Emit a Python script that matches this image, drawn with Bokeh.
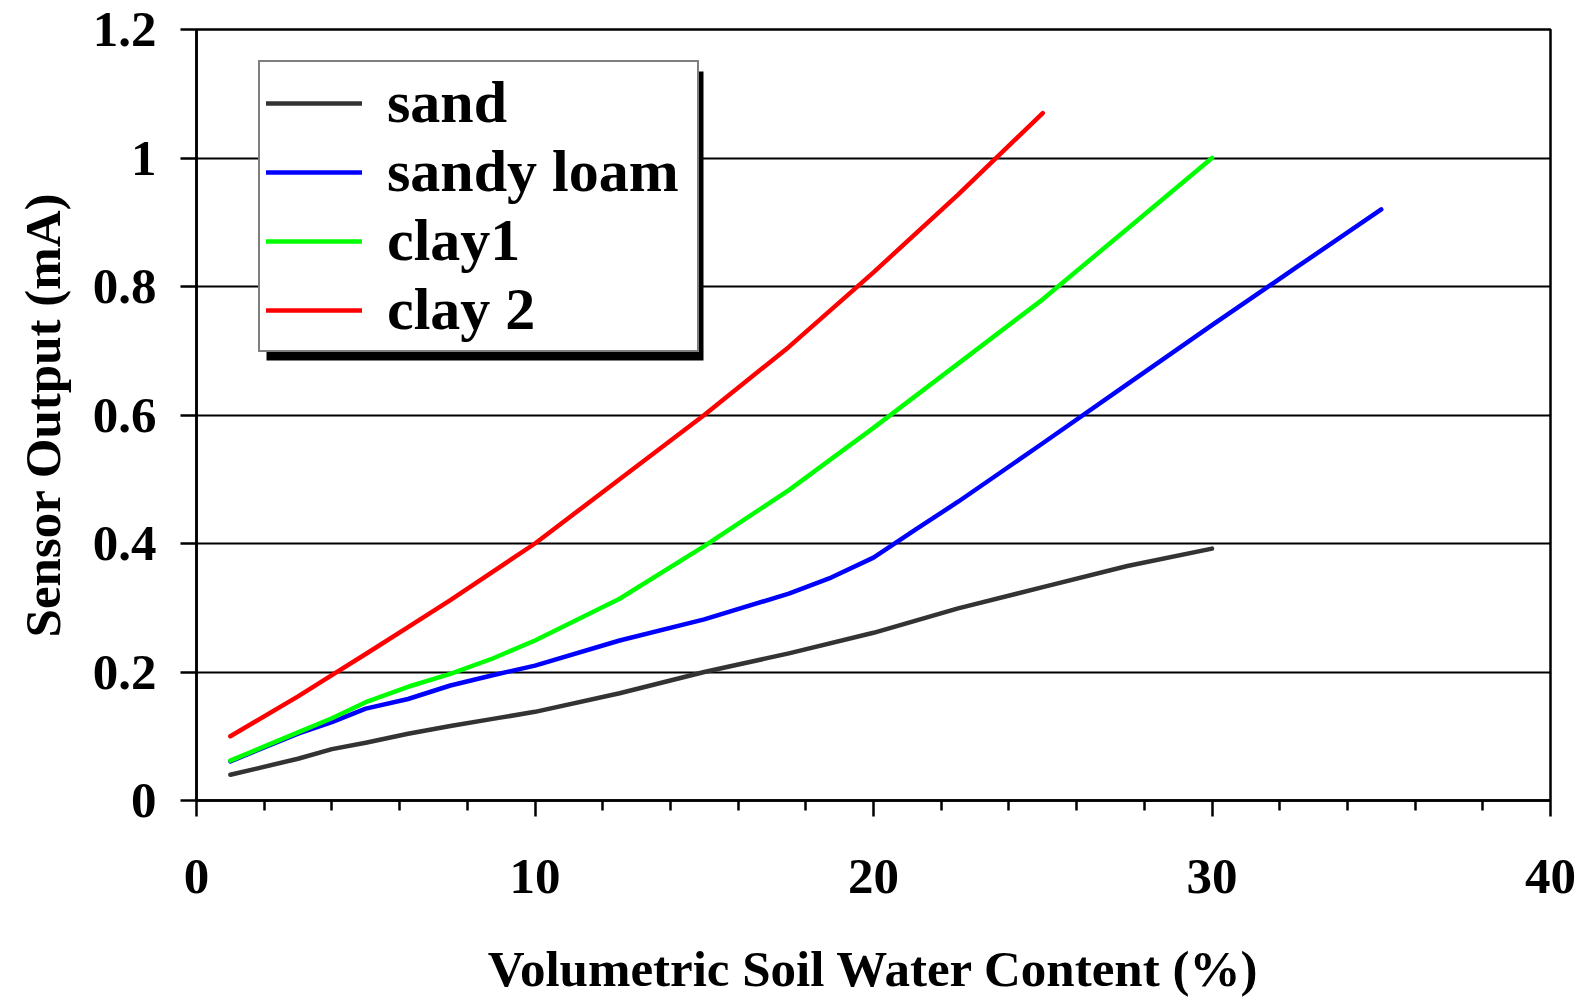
from bokeh.plotting import figure
from bokeh.models import Range1d, FixedTicker, Legend, LegendItem, BoxAnnotation
from bokeh.embed import file_html
from bokeh.resources import INLINE

# ---- data ----
series_names = ["sand", "sandy loam", "clay1", "clay 2"]

sand_x = [1, 3, 4, 5, 6.25, 7.5, 8.75, 10, 12.5, 15, 17.5, 20, 22.5, 25, 27.5, 30]
sand_y = [0.040, 0.065, 0.080, 0.090, 0.104, 0.116, 0.127, 0.138, 0.167, 0.200,
          0.229, 0.261, 0.299, 0.332, 0.365, 0.392]

loam_x = [1, 3, 4, 5, 6.25, 7.5, 8.75, 10, 12.5, 15, 17.5, 18.75, 20, 21.25,
          22.5, 25, 27.5, 30, 32.5, 35]
loam_y = [0.061, 0.104, 0.122, 0.143, 0.158, 0.179, 0.195, 0.210, 0.249, 0.282,
          0.322, 0.347, 0.378, 0.422, 0.465, 0.556, 0.648, 0.740, 0.830, 0.920]

clay1_x = [1, 3, 4, 5, 6.25, 7.5, 8.75, 10, 12.5, 15, 17.5, 20, 22.5, 25, 27.5, 30]
clay1_y = [0.062, 0.106, 0.128, 0.153, 0.177, 0.197, 0.221, 0.249, 0.314, 0.396,
           0.483, 0.580, 0.680, 0.780, 0.890, 1.000]

clay2_x = [1, 3, 4, 5, 6.25, 7.5, 10, 12.5, 15, 17.5, 20, 22.5, 25]
clay2_y = [0.100, 0.162, 0.195, 0.228, 0.270, 0.312, 0.400, 0.500, 0.600,
           0.706, 0.822, 0.943, 1.070]

x_ticks = [0, 10, 20, 30, 40]
x_minor = [2, 4, 6, 8, 12, 14, 16, 18, 22, 24, 26, 28, 32, 34, 36, 38]
y_ticks = [0, 0.2, 0.4, 0.6, 0.8, 1.0, 1.2]
y_tick_labels = ["0", "0.2", "0.4", "0.6", "0.8", "1", "1.2"]

colors = ["#333333", "#0000ff", "#00ff00", "#ff0000"]

FONT = "Liberation Serif"

X0, X1, Y0, Y1 = 0, 40, 0, 1.2
FRAME_W, FRAME_H = 1354, 771
LEFT, TOP = 196, 29
W, H = 1585, 1000

p = figure(width=W, height=H,
           x_range=Range1d(X0, X1), y_range=Range1d(Y0, Y1),
           output_backend="svg", toolbar_location=None,
           min_border_left=LEFT, min_border_right=W - LEFT - FRAME_W,
           min_border_top=TOP, min_border_bottom=H - TOP - FRAME_H)

p.outline_line_color = "black"
p.outline_line_width = 2.5
p.background_fill_color = "white"
p.border_fill_color = "white"

p.xgrid.visible = False
p.ygrid.ticker = FixedTicker(ticks=y_ticks)
p.ygrid.grid_line_color = "black"
p.ygrid.grid_line_width = 2

p.xaxis.ticker = FixedTicker(ticks=x_ticks, minor_ticks=x_minor)
p.yaxis.ticker = FixedTicker(ticks=y_ticks)
p.yaxis.major_label_overrides = {t: l for t, l in zip(y_ticks, y_tick_labels)}

for ax in (p.xaxis[0], p.yaxis[0]):
    ax.axis_line_width = 2.5
    ax.axis_line_color = "black"
    ax.major_tick_line_width = 2.5
    ax.major_tick_line_color = "black"
    ax.minor_tick_line_width = 2.5
    ax.minor_tick_line_color = "black"
    ax.major_tick_in = 0
    ax.major_tick_out = 16
    ax.minor_tick_in = 0
    ax.minor_tick_out = 10
    ax.major_label_text_font = FONT
    ax.major_label_text_font_style = "bold"
    ax.major_label_text_font_size = "51px"
    ax.major_label_text_color = "black"
    ax.axis_label_text_font = FONT
    ax.axis_label_text_font_style = "bold"
    ax.axis_label_text_font_size = "51px"
    ax.axis_label_text_color = "black"

p.yaxis.minor_tick_line_color = None
p.xaxis.axis_label = "Volumetric Soil Water Content (%)"
p.yaxis.axis_label = "Sensor Output (mA)"
p.xaxis.major_label_standoff = 43
p.xaxis.axis_label_standoff = 45
p.yaxis.major_label_standoff = 24
p.yaxis.axis_label_standoff = 19

renderers = []
for xs, ys, c in zip([sand_x, loam_x, clay1_x, clay2_x],
                     [sand_y, loam_y, clay1_y, clay2_y], colors):
    r = p.line(xs, ys, line_color=c, line_width=4.5,
               line_cap="round", line_join="round")
    renderers.append(r)

# legend geometry (screen px relative to frame bottom-left)
LEG_X, LEG_Y = 62, 448
LEG_W, LEG_H = 437, 289
SH = 8  # shadow offset
sx = (X1 - X0) / FRAME_W
sy = (Y1 - Y0) / FRAME_H
shadow = BoxAnnotation(left=X0 + (LEG_X + SH) * sx,
                       right=X0 + (LEG_X + LEG_W + SH) * sx,
                       bottom=Y0 + (LEG_Y - SH) * sy,
                       top=Y0 + (LEG_Y + LEG_H - SH) * sy,
                       fill_color="black", fill_alpha=1.0, line_color=None)
p.add_layout(shadow)

legend = Legend(items=[LegendItem(label=n, renderers=[r]) for n, r in zip(series_names, renderers)],
                location=(LEG_X, LEG_Y), orientation="vertical")
legend.label_text_font = FONT
legend.label_text_font_style = "bold"
legend.label_text_font_size = "60px"
legend.label_text_color = "black"
legend.glyph_width = 96
legend.label_standoff = 25
legend.label_width = 304
legend.spacing = 0
legend.padding = 6
legend.margin = 0
legend.border_line_color = "black"
legend.border_line_width = 2
legend.background_fill_color = "white"
legend.background_fill_alpha = 1.0
p.add_layout(legend, "center")

open("out.html", "w").write(file_html(p, INLINE))
